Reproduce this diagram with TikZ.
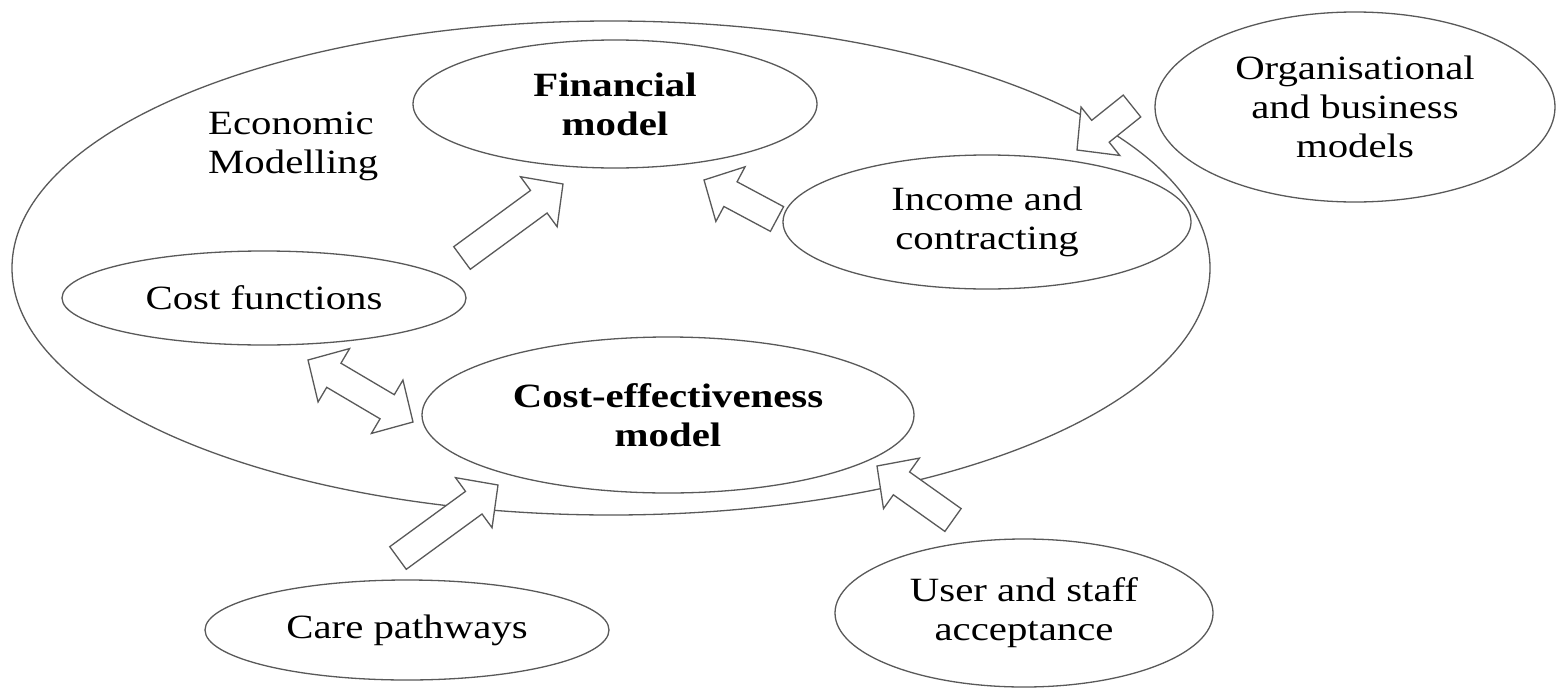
\documentclass[tikz,border=0pt]{standalone}
\usepackage{graphicx}
\usepackage{fontspec}
\setmainfont{Liberation Serif}
\usetikzlibrary{shapes.geometric,calc}
\newcommand{\wx}[1]{\scalebox{1.2}[1]{#1}}
\newcommand{\bahl}{30pt}
\newcommand{\basw}{14pt}
\newcommand{\bahw}{31pt}
% single block arrow: #1 name, #2 tail coordinate, #3 tip coordinate
\newcommand{\blockarrow}[3]{%
  \coordinate (#1b) at ($(#3)!\bahl!(#2)$);
  \draw[barrow] ($(#2)!\basw!90:(#3)$) -- ($(#1b)!\basw!90:(#3)$) -- ($(#1b)!\bahw!90:(#3)$) -- (#3)
     -- ($(#1b)!\bahw!-90:(#3)$) -- ($(#1b)!\basw!-90:(#3)$) -- ($(#2)!\basw!-90:(#3)$) -- cycle;}
% double block arrow: #1 name, #2 one tip, #3 other tip
\newcommand{\dblockarrow}[3]{%
  \coordinate (#1p) at ($(#3)!\bahl!(#2)$);
  \coordinate (#1q) at ($(#2)!\bahl!(#3)$);
  \draw[barrow] (#2) -- ($(#1q)!\bahw!90:(#3)$) -- ($(#1q)!\basw!90:(#3)$) -- ($(#1p)!\basw!90:(#3)$)
     -- ($(#1p)!\bahw!90:(#3)$) -- (#3) -- ($(#1p)!\bahw!-90:(#3)$) -- ($(#1p)!\basw!-90:(#3)$)
     -- ($(#1q)!\basw!-90:(#3)$) -- ($(#1q)!\bahw!-90:(#3)$) -- cycle;}
\begin{document}
\begin{tikzpicture}[x=1pt,y=-1pt,
  oval/.style={draw=black!65, line width=1.3pt, ellipse, inner sep=0pt, align=center,
               font=\fontsize{34}{39}\selectfont},
  boldoval/.style={oval, font={\fontsize{34}{39}\selectfont\bfseries}},
  lbl/.style={font=\fontsize{34}{39}\selectfont, inner sep=0pt},
  barrow/.style={draw=black!65, line width=1.3pt, fill=white, line join=miter}]
\fill[white] (0,0) rectangle (1557,688);
\useasboundingbox (0,0) rectangle (1557,688);

% big ellipse
\node[oval, minimum width=1198pt, minimum height=494pt] (econ) at (611,268) {};
\node[lbl, anchor=west, align=left] (econlbl) at (208,146) {\wx{Economic}\\\wx{Modelling}};

% inner ellipses
\node[boldoval, minimum width=404pt, minimum height=128pt] (fin) at (615,104) {\wx{Financial}\\\wx{model}};
\node[oval, minimum width=404pt, minimum height=94pt] (cost) at (264,298) {\wx{Cost functions}};
\node[boldoval, minimum width=492pt, minimum height=156pt] (ce) at (668,415) {\wx{Cost-effectiveness}\\\wx{model}};
\node[oval, minimum width=408pt, minimum height=134pt] (inc) at (987,222) {\wx{Income and}\\\wx{contracting}};

% outer ellipses
\node[oval, minimum width=400pt, minimum height=190pt] (org) at (1355,107) {\wx{Organisational}\\\wx{and business}\\\wx{models}};
\node[oval, minimum width=404pt, minimum height=100pt] (care) at (407,630) {\wx{Care pathways}};
\node[oval, minimum width=378pt, minimum height=148pt] (user) at (1024,613) {\wx{User and staff}\\\wx{acceptance}};

% arrow end points
\coordinate (aTail) at (462,258);  \coordinate (aTip) at (563,184);
\coordinate (bTail) at (777,219);  \coordinate (bTip) at (704,180);
\coordinate (cTail) at (1132,106); \coordinate (cTip) at (1077,150);
\coordinate (dEndA) at (308,360);  \coordinate (dEndB) at (413,422);
\coordinate (eTail) at (398,558);  \coordinate (eTip) at (498,485);
\coordinate (fTail) at (953,520);  \coordinate (fTip) at (877,466);

\blockarrow{arA}{aTail}{aTip}
\blockarrow{arB}{bTail}{bTip}
\blockarrow{arC}{cTail}{cTip}
\dblockarrow{arD}{dEndA}{dEndB}
\blockarrow{arE}{eTail}{eTip}
\blockarrow{arF}{fTail}{fTip}
\end{tikzpicture}
\end{document}
